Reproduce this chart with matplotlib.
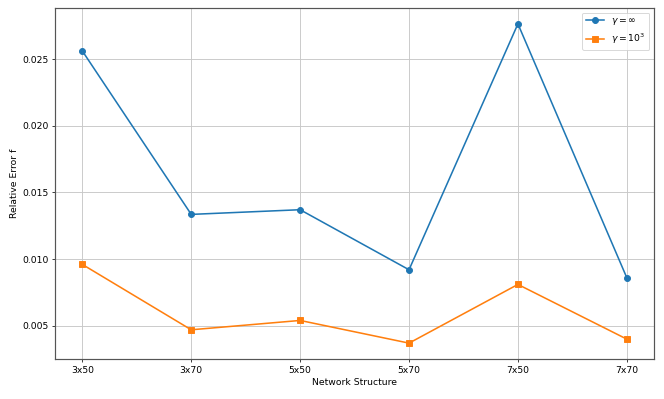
import matplotlib
matplotlib.use("Agg")
import matplotlib.pyplot as plt

structures = ["3x50", "3x70", "5x50", "5x70", "7x50", "7x70"]
err_inf = [0.0256, 0.01335, 0.0137, 0.0092, 0.02763, 0.0086]
err_1e3 = [0.0096, 0.0047, 0.0054, 0.0037, 0.0081, 0.0040]

fig = plt.figure(figsize=(10, 6.01), dpi=66.4)
ax = fig.add_subplot(111)
ax.plot(structures, err_inf, marker="o", lw=1.7, ms=6.5, label=r"$\gamma=\infty$")
ax.plot(structures, err_1e3, marker="s", lw=1.7, ms=6.5, label=r"$\gamma=10^3$")
ax.set_xlabel("Network Structure")
ax.set_ylabel("Relative Error f")
ax.grid(True, color="#c8c8c8", lw=1.0)
ax.legend(loc="upper right")
for s in ax.spines.values():
    s.set_linewidth(1.3)
    s.set_color("#555555")
fig.subplots_adjust(left=0.083, right=0.985, top=0.98, bottom=0.1)
fig.savefig("out.png", dpi=66.4)
